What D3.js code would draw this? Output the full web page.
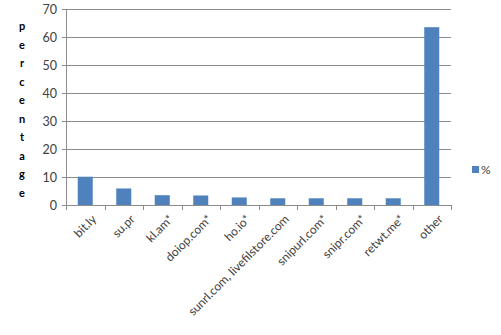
<!DOCTYPE html>
<html>
<head>
<meta charset="utf-8">
<script src="https://cdn.jsdelivr.net/npm/d3@7"></script>
<style>
body { margin: 0; background: #fff; }
</style>
</head>
<body>
<div id="chart"></div>
<script>
var categories = ["bit.ly", "su.pr", "kl.am*", "doiop.com*", "ho.io*", "sunrl.com, livefilstore.com", "snipurl.com*", "snipr.com*", "retwt.me*", "other"];
var values = [10.1, 5.9, 3.5, 3.4, 2.7, 2.4, 2.4, 2.4, 2.4, 63.5];
var yTicks = [0, 10, 20, 30, 40, 50, 60, 70];
var yTitle = "percentage";
var seriesName = "%";

var W = 501, H = 335;
var margin = { left: 66, right: 451, top: 9, bottom: 205 };
var font = "Lato, 'Open Sans', sans-serif";

var svg = d3.select("#chart").append("svg")
    .attr("width", W)
    .attr("height", H);

var xScale = d3.scaleBand()
    .domain(categories)
    .range([margin.left, margin.right]);

var yScale = d3.scaleLinear()
    .domain([0, 70])
    .range([margin.bottom, margin.top]);

// gridlines
svg.append("g")
    .selectAll("line")
    .data(yTicks.filter(function(d) { return d > 0; }))
    .enter().append("line")
    .attr("x1", margin.left)
    .attr("x2", margin.right)
    .attr("y1", function(d) { return Math.round(yScale(d)) + 0.5; })
    .attr("y2", function(d) { return Math.round(yScale(d)) + 0.5; })
    .attr("stroke", "#8c8c8c")
    .attr("stroke-width", 1);

// bars
var barW = 15;
svg.append("g")
    .selectAll("rect")
    .data(values)
    .enter().append("rect")
    .attr("x", function(d, i) { return xScale(categories[i]) + xScale.bandwidth() / 2 - barW / 2; })
    .attr("y", function(d) { return yScale(d); })
    .attr("width", barW)
    .attr("height", function(d) { return margin.bottom - yScale(d); })
    .attr("fill", "#4f81bd");

// y axis
var yAxis = svg.append("g")
    .attr("transform", "translate(" + margin.left + ",0)")
    .call(d3.axisLeft(yScale).tickValues(yTicks).tickSize(4).tickPadding(5));
yAxis.select(".domain").attr("stroke", "#8c8c8c");
yAxis.selectAll(".tick line").attr("stroke", "#8c8c8c");
yAxis.selectAll("text")
    .attr("font-family", font)
    .attr("font-size", 12.5)
    .attr("fill", "#404040");

// x axis
var xAxis = svg.append("g")
    .attr("transform", "translate(0," + margin.bottom + ")")
    .call(d3.axisBottom(xScale).tickSize(0).tickPadding(0));
xAxis.select(".domain").attr("stroke", "#8c8c8c");
xAxis.selectAll("text")
    .attr("font-family", font)
    .attr("font-size", 12)
    .attr("fill", "#404040")
    .attr("text-anchor", "end")
    .attr("transform", "translate(6,9) rotate(-45)")
    .attr("y", 0)
    .attr("dy", "0.7em");

// x tick marks on band boundaries
svg.append("g")
    .selectAll("line")
    .data(d3.range(categories.length + 1))
    .enter().append("line")
    .attr("x1", function(i) { return left(i); })
    .attr("x2", function(i) { return left(i); })
    .attr("y1", margin.bottom)
    .attr("y2", margin.bottom + 5)
    .attr("stroke", "#8c8c8c");

function left(i) {
    return Math.round(margin.left + i * xScale.step()) + 0.5;
}

// y title, letters stacked vertically
svg.append("g")
    .selectAll("text")
    .data(yTitle.split(""))
    .enter().append("text")
    .attr("x", 22)
    .attr("y", function(d, i) { return 30 + i * 18.5; })
    .attr("text-anchor", "middle")
    .attr("font-family", font)
    .attr("font-size", 11)
    .attr("font-weight", "bold")
    .attr("fill", "#000")
    .text(function(d) { return d; });

// legend
svg.append("rect")
    .attr("x", 472)
    .attr("y", 166)
    .attr("width", 7)
    .attr("height", 7)
    .attr("fill", "#4f81bd");
svg.append("text")
    .attr("x", 481)
    .attr("y", 170)
    .attr("dy", "0.35em")
    .attr("font-family", font)
    .attr("font-size", 12)
    .attr("fill", "#404040")
    .text(seriesName);
</script>
</body>
</html>
